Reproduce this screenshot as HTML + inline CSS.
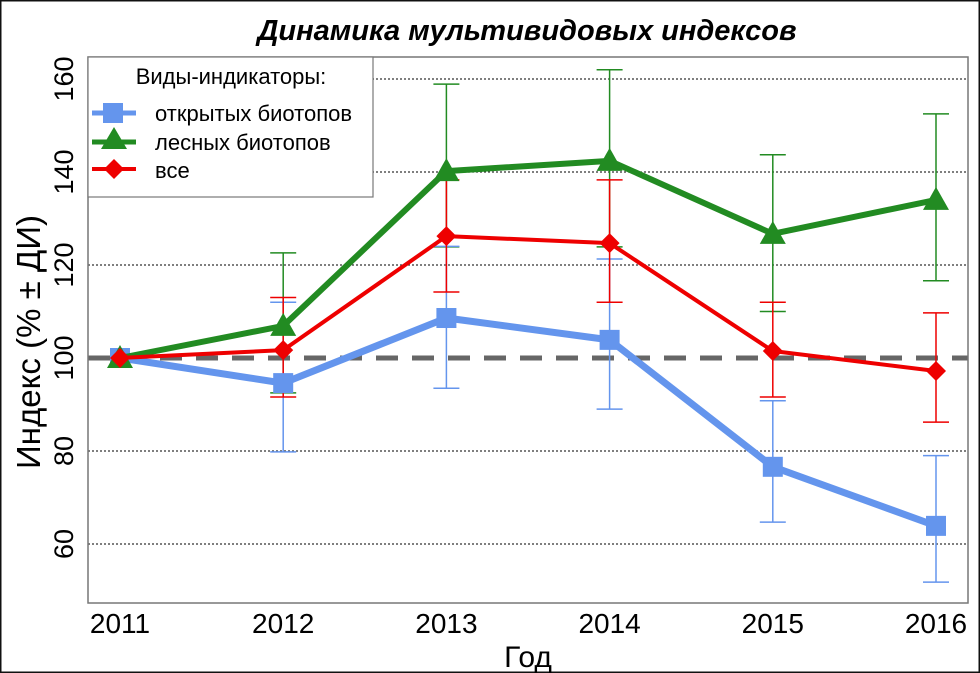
<!DOCTYPE html>
<html><head><meta charset="utf-8"><style>
body{margin:0;background:#fff;width:980px;height:673px;overflow:hidden}
svg{display:block;font-family:"Liberation Sans",sans-serif}
</style></head><body>
<svg id="chart" width="980" height="673">
<rect x="0.5" y="0.5" width="979" height="672" fill="#fff" stroke="#111" stroke-width="2"/>
<text x="527" y="40" text-anchor="middle" font-size="29" font-weight="bold" font-style="italic">Динамика мультивидовых индексов</text>
<g id="grid"></g>
<g id="series"></g>
<rect x="88" y="57" width="880" height="546" fill="none" stroke="#777" stroke-width="1.5"/>
<g id="axes"></g>
<text x="528" y="667" text-anchor="middle" font-size="30">Год</text>
<text transform="translate(40,342) rotate(-90)" text-anchor="middle" font-size="33">Индекс (% ± ДИ)</text>
<g>
<rect x="88" y="57" width="285" height="140" fill="#fff" stroke="#777" stroke-width="1.2"/>
<text x="231" y="84" text-anchor="middle" font-size="22">Виды-индикаторы:</text>
<g><line x1="92" y1="113" x2="136" y2="113" stroke="#6495ED" stroke-width="5"/><rect x="103" y="103" width="20" height="20" fill="#6495ED"/><text x="155" y="121" font-size="22">открытых биотопов</text></g>
<g><line x1="92" y1="142" x2="136" y2="142" stroke="#228B22" stroke-width="5"/><polygon points="114,127 127,149 101,149" fill="#228B22"/><text x="155" y="150" font-size="22">лесных биотопов</text></g>
<g><line x1="92" y1="169" x2="136" y2="169" stroke="#e00" stroke-width="4"/><polygon points="114,159 124,169 114,179 104,169" fill="#e00"/><text x="155" y="178" font-size="22">все</text></g>
</g>
</svg>
<script>
const years=[2011,2012,2013,2014,2015,2016];
const yTicks=[60,80,100,120,140,160];
const openVals=[100,94.6,108.6,103.9,76.6,63.9];
const openLo=[100,79.8,93.5,89,64.7,51.8];
const openHi=[100,112,124,121.3,90.8,79];
const forestVals=[100,106.9,140.2,142.4,126.7,134];
const forestLo=[100,92.5,123.9,123.9,110,116.6];
const forestHi=[100,122.6,158.9,162,143.7,152.5];
const allVals=[100,101.7,126.2,124.7,101.5,97.2];
const allLo=[100,91.6,114.2,112,91.6,86.2];
const allHi=[100,113,138.3,138.3,112,109.7];
const NS="http://www.w3.org/2000/svg";
function xS(i){return 120+i*163.2;}
function yS(v){return 358-(v-100)*4.65;}
function mk(tag,attrs,parent){const e=document.createElementNS(NS,tag);for(const k in attrs)e.setAttribute(k,attrs[k]);parent.appendChild(e);return e;}
const grid=document.getElementById('grid'),axes=document.getElementById('axes'),ser=document.getElementById('series');
yTicks.forEach(t=>{
  if(t!==100){const l=mk('line',{x1:88,x2:968,y1:yS(t),y2:yS(t),stroke:'#333','stroke-width':1.3,'stroke-dasharray':'2,2'},grid);
  
  }
  const tx=mk('text',{transform:`translate(73,${yS(t)}) rotate(-90)`,'text-anchor':'middle','font-size':27},axes);
  tx.textContent=t;
  
  
});
const ref=mk('line',{x1:88,x2:968,y1:yS(100),y2:yS(100),stroke:'#666','stroke-width':5,'stroke-dasharray':'22,14'},grid);


years.forEach((y,i)=>{
  const tx=mk('text',{x:xS(i),y:633,'text-anchor':'middle','font-size':28},axes);
  tx.textContent=y;
  
  
});
function drawErr(lo,hi,col,name){
  const g=mk('g',{},ser);
  
  
  lo.forEach((v,i)=>{if(hi[i]===v)return;const x=xS(i);
    mk('line',{x1:x,x2:x,y1:yS(lo[i]),y2:yS(hi[i]),stroke:col,'stroke-width':1.5},g);
    mk('line',{x1:x-13,x2:x+13,y1:yS(lo[i]),y2:yS(lo[i]),stroke:col,'stroke-width':1.5},g);
    mk('line',{x1:x-13,x2:x+13,y1:yS(hi[i]),y2:yS(hi[i]),stroke:col,'stroke-width':1.5},g);});
}
function drawLine(vals,col,w,name,shape){
  const g=mk('g',{},ser);
  
  
  mk('polyline',{points:vals.map((v,i)=>xS(i)+','+yS(v)).join(' '),fill:'none',stroke:col,'stroke-width':w,'stroke-linejoin':'round'},g);
  vals.forEach((v,i)=>{const x=xS(i),y=yS(v);let m;
    if(shape==='sq')m=mk('rect',{x:x-10,y:y-10,width:20,height:20,fill:col},g);
    else if(shape==='tri')m=mk('polygon',{points:`${x},${y-13} ${x+13},${y+10} ${x-13},${y+10}`,fill:col},g);
    else m=mk('polygon',{points:`${x},${y-10} ${x+10},${y} ${x},${y+10} ${x-10},${y}`,fill:col},g);
    
    });
}
drawErr(forestLo,forestHi,'#228B22','forest');
drawErr(openLo,openHi,'#6495ED','open');
drawErr(allLo,allHi,'#e00','all');
drawLine(openVals,'#6495ED',7,'open','sq');
drawLine(forestVals,'#228B22',6,'forest','tri');
drawLine(allVals,'#e00',4,'all','dia');
</script>
</body></html>
